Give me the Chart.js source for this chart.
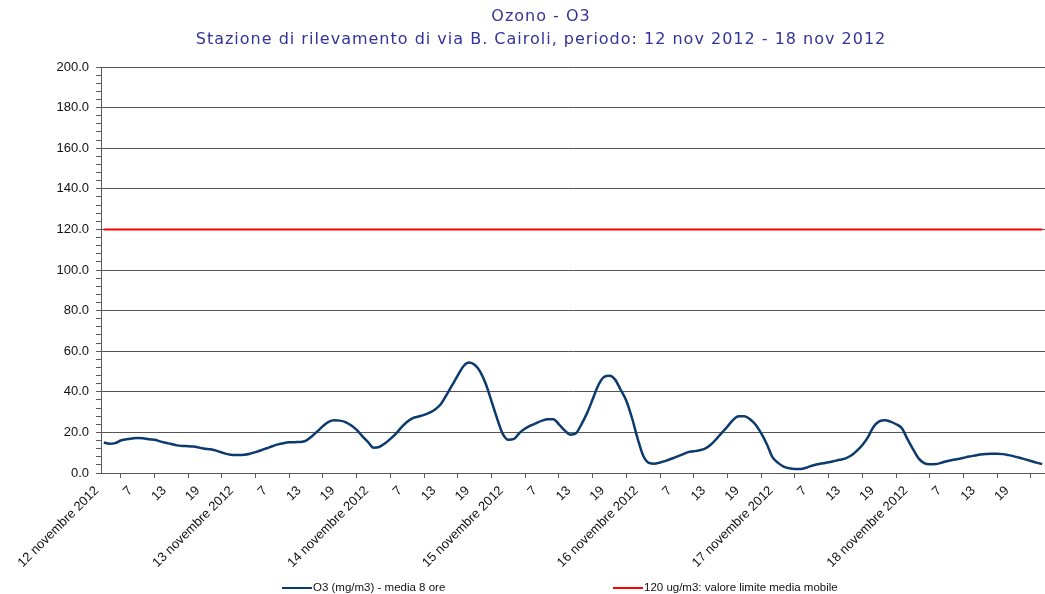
<!DOCTYPE html>
<html>
<head>
<meta charset="utf-8">
<script src="https://cdn.jsdelivr.net/npm/chart.js@4/dist/chart.umd.min.js"></script>
<style>
html,body{margin:0;padding:0;background:#fff;}
#wrap{width:1045px;height:594px;position:relative;}
</style>
</head>
<body>
<div id="wrap"><canvas id="c" width="1045" height="594"></canvas></div>
<script>
// ---- data ----
const days = ['12 novembre 2012','13 novembre 2012','14 novembre 2012','15 novembre 2012','16 novembre 2012','17 novembre 2012','18 novembre 2012'];
const hours = [1,2,3,4,5,6,7,8,9,10,11,12,13,14,15,16,17,18,19,20,21,22,23,24];
const labelHours = [7,13,19];
const o3Values = [
  15.0,14.4,14.7,16.0,16.6,17.0,17.3,17.1,16.6,16.4,15.6,14.9,14.3,13.6,13.3,13.2,13.0,12.5,12.0,11.7,11.0,10.1,9.3,8.9,
  8.9,9.0,9.5,10.3,11.2,12.2,13.2,14.1,14.7,15.1,15.2,15.3,16.0,18.0,20.5,23.1,25.2,26.0,25.8,25.1,23.5,21.2,18.2,15.3,
  12.5,12.8,14.5,16.8,19.4,22.6,25.2,27.0,27.8,28.6,29.7,31.4,34.0,38.5,43.3,48.1,52.6,54.4,53.3,49.8,43.7,35.3,26.8,19.3,
  16.4,16.8,19.8,21.9,23.4,24.6,25.8,26.5,26.5,24.0,21.0,18.9,19.5,24.0,29.5,36.3,43.2,47.3,47.9,46.0,40.9,35.5,27.1,17.0,
  8.5,5.0,4.6,5.2,6.0,7.0,8.1,9.2,10.3,10.7,11.2,12.0,13.9,16.7,19.9,22.9,26.2,27.9,28.0,26.5,23.8,19.5,14.2,7.8,
  5.0,3.2,2.3,2.0,2.0,2.6,3.6,4.3,4.8,5.3,5.9,6.5,7.2,8.6,10.9,13.8,17.7,22.8,25.4,26.0,25.3,24.0,22.2,16.8,
  11.8,7.2,4.9,4.3,4.4,5.0,5.8,6.4,6.9,7.5,8.1,8.6,9.1,9.4,9.5,9.5,9.3,8.8,8.2,7.5,6.7,5.9,5.1,4.4
];
const limitValue = 120;
const yMin = 0, yMax = 200, yMajorStep = 20, yMinorStep = 4;
const titleLines = ['Ozono - O3','Stazione di rilevamento di via B. Cairoli, periodo: 12 nov 2012 - 18 nov 2012'];
const seriesNames = ['O3 (mg/m3) - media 8 ore','120 ug/m3: valore limite media mobile'];

// ---- build categories ----
const categories = [];
days.forEach(d => hours.forEach(h => categories.push({day:d, hour:h})));
const catLabels = categories.map(c => c.hour === 1 ? c.day : (labelHours.includes(c.hour) ? String(c.hour) : ''));

const O3_COLOR = '#0b3a6c';
const LIM_COLOR = '#ff0000';
const AXIS_COLOR = '#5a5a5a';
const TITLE_COLOR = '#333399';

const titlePlugin = {
  id: 'manualTitle',
  afterDraw(chart) {
    const ctx = chart.ctx;
    ctx.save();
    ctx.font = '16px "DejaVu Sans", Verdana, sans-serif';
    ctx.fillStyle = TITLE_COLOR;
    ctx.textAlign = 'center';
    ctx.textBaseline = 'middle';
    try { ctx.letterSpacing = '1px'; } catch (e) {}
    ctx.fillText(titleLines[0], 541, 17);
    ctx.fillText(titleLines[1], 541, 40);
    ctx.restore();
  }
};

const legendPlugin = {
  id: 'manualLegend',
  afterDraw(chart) {
    const ctx = chart.ctx;
    ctx.save();
    ctx.font = '11.5px "Liberation Sans", Arial, sans-serif';
    ctx.textBaseline = 'middle';
    ctx.fillStyle = '#111';
    const y = 588;
    const items = [
      {x: 282, color: O3_COLOR, text: seriesNames[0]},
      {x: 613, color: LIM_COLOR, text: seriesNames[1]}
    ];
    items.forEach(it => {
      ctx.strokeStyle = it.color;
      ctx.lineWidth = 2;
      ctx.beginPath();
      ctx.moveTo(it.x, y);
      ctx.lineTo(it.x + 30, y);
      ctx.stroke();
      ctx.fillText(it.text, it.x + 31, y);
    });
    ctx.restore();
  }
};

new Chart(document.getElementById('c'), {
  type: 'line',
  data: {
    labels: catLabels,
    datasets: [
      {
        label: seriesNames[0],
        data: o3Values,
        borderColor: O3_COLOR,
        borderWidth: 2.5,
        pointRadius: 0,
        cubicInterpolationMode: 'monotone',
        fill: false
      },
      {
        label: seriesNames[1],
        data: categories.map(() => limitValue),
        borderColor: LIM_COLOR,
        borderWidth: 2,
        pointRadius: 0,
        fill: false
      }
    ]
  },
  options: {
    responsive: false,
    animation: false,
    layout: {padding: {left: 0, right: 0, top: 67, bottom: 0}},
    plugins: {
      legend: {display: false},
      tooltip: {enabled: false},
      title: {display: false}
    },
    scales: {
      x: {
        type: 'category',
        offset: true,
        grid: {
          offset: true,
          drawOnChartArea: false,
          drawTicks: true,
          tickLength: 5,
          tickColor: AXIS_COLOR
        },
        border: {display: true, color: AXIS_COLOR, width: 1},
        ticks: {
          autoSkip: false,
          maxRotation: 45,
          minRotation: 45,
          padding: 5,
          labelOffset: -7,
          color: '#111',
          font: {family: '"Liberation Sans", Arial, sans-serif', size: 13},
          callback: function(v, i) {
            return (i % 6 === 0) ? catLabels[i] : null;
          }
        },
        afterFit(scale) { scale.height = 121; }
      },
      y: {
        min: yMin,
        max: yMax,
        grid: {
          color: ctx => (ctx.tick && ctx.tick.value % yMajorStep === 0) ? '#555555' : 'rgba(0,0,0,0)',
          tickColor: AXIS_COLOR,
          drawTicks: true,
          tickLength: 5
        },
        border: {display: true, color: AXIS_COLOR, width: 1},
        ticks: {
          stepSize: yMinorStep,
          autoSkip: false,
          maxTicksLimit: 100,
          padding: 7,
          color: '#111',
          font: {family: '"Liberation Sans", Arial, sans-serif', size: 13},
          callback: v => (v % yMajorStep === 0) ? v.toFixed(1) : ''
        },
        afterFit(scale) { scale.width = 101; }
      }
    }
  },
  plugins: [titlePlugin, legendPlugin]
});
</script>
</body>
</html>
